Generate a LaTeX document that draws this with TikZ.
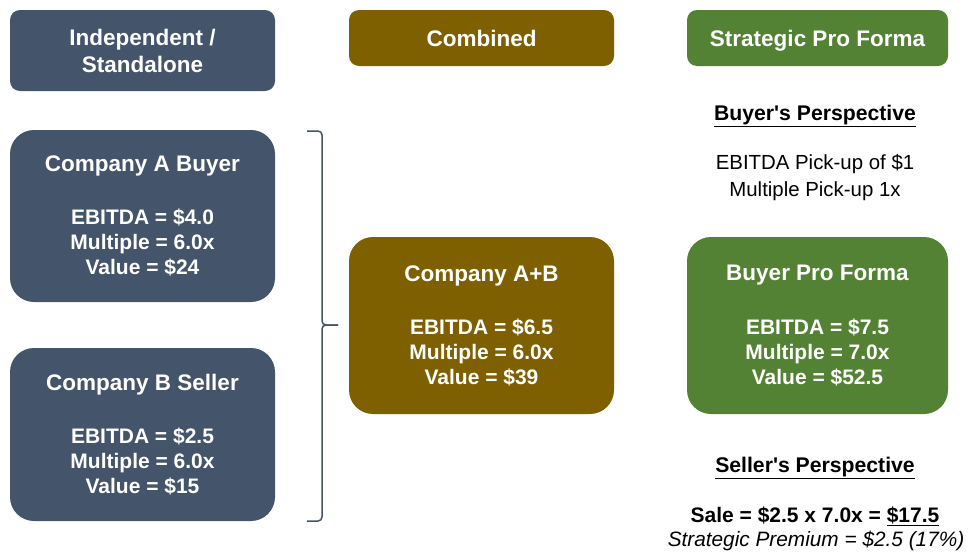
\documentclass[tikz,border=0pt]{standalone}
\usepackage{fontspec}
\setmainfont{Liberation Sans}
\usetikzlibrary{positioning}
\definecolor{slate}{HTML}{44546A}
\definecolor{olive}{HTML}{7F6000}
\definecolor{leaf}{HTML}{548235}
\newcommand{\boxtitle}[1]{{\fontsize{22.5}{27}\selectfont #1}}

\begin{document}
\begin{tikzpicture}[x=1pt,y=-1pt]
\tikzset{
    header/.style={rectangle, rounded corners=10pt, text=white, font=\fontsize{22.5}{27}\selectfont\bfseries, align=center, inner sep=0pt},
    oneline/.style={text height=16pt, text depth=0pt},
    company/.style={rectangle, rounded corners=24pt, text=white, font=\fontsize{21}{25}\selectfont\bfseries, align=center, inner sep=0pt},
    note/.style={font=\fontsize{20.4}{27}\selectfont, align=center, inner sep=0pt},
    brace/.style={draw=slate, line width=1.5pt, rounded corners=4pt}
}
\useasboundingbox (0,0) rectangle (968,552);

% column headers
\node[header, fill=slate, minimum width=265pt, minimum height=81pt] (indep) at (142.5,50.5) {Independent /\\Standalone};
\node[header, oneline, fill=olive, minimum width=265pt, minimum height=56pt] (combined) at (481.5,38) {Combined};
\node[header, oneline, fill=leaf, minimum width=261pt, minimum height=56pt] (proforma) at (817.5,38) {Strategic Pro Forma};

% standalone companies
\node[company, fill=slate, minimum width=265pt, minimum height=172pt] (buyerA) at (142.5,216) {\boxtitle{Company A Buyer}\\[28pt]EBITDA = \$4.0\\Multiple = 6.0x\\Value = \$24};
\node[company, fill=slate, minimum width=265pt, minimum height=173pt] (sellerB) at (142.5,434.5) {\boxtitle{Company B Seller}\\[28pt]EBITDA = \$2.5\\Multiple = 6.0x\\Value = \$15};

% combined company
\node[company, fill=olive, minimum width=265pt, minimum height=177pt] (combinedAB) at (481.5,325.5) {\boxtitle{Company A+B}\\[28pt]EBITDA = \$6.5\\Multiple = 6.0x\\Value = \$39};

% strategic pro forma
\node[company, fill=leaf, minimum width=261pt, minimum height=177pt] (buyerPF) at (817.5,325.5) {\boxtitle{Buyer Pro Forma}\\[29pt]EBITDA = \$7.5\\Multiple = 7.0x\\Value = \$52.5};

% bracket
\draw[brace] (307,131) -- (322,131) -- (322,325) -- (338,325);
\draw[brace] (338,325) -- (322,325) -- (322,521) -- (307,521);

% perspectives
\node[note, font=\fontsize{21.2}{27}\selectfont\bfseries] (buyerPersp) at (815,116) {\underline{Buyer\textquotesingle s Perspective}};
\node[note] (buyerPickup) at (815,178) {EBITDA Pick-up of \$1\\Multiple Pick-up 1x};
\node[note, font=\fontsize{21.2}{27}\selectfont\bfseries] (sellerPersp) at (815,468) {\underline{Seller\textquotesingle s Perspective}};
\node[note, font=\fontsize{21}{27}\selectfont\bfseries] (sale) at (815,516) {Sale = \$2.5 x 7.0x = \underline{\$17.5}};
\node[note, font=\fontsize{20.8}{27}\selectfont\itshape] (premium) at (816,541) {Strategic Premium = \$2.5 (17\%)};
\end{tikzpicture}
\end{document}
